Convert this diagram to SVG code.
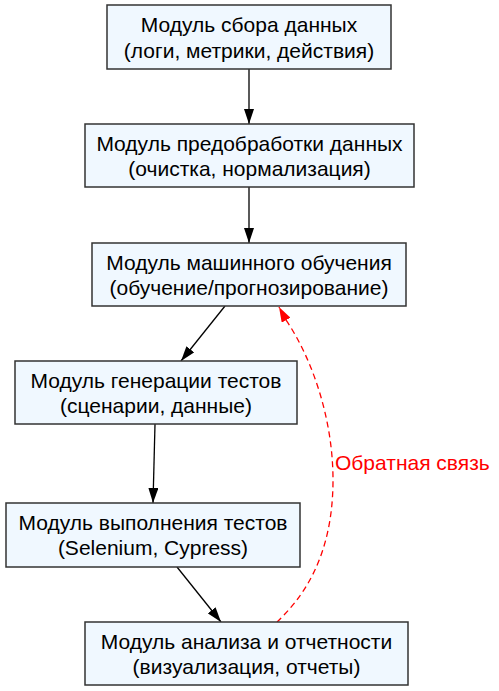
<svg xmlns="http://www.w3.org/2000/svg" width="499" height="691" viewBox="0 0 499 691">
<style>
.node rect{fill:#f0f8ff;stroke:#333;stroke-width:1.5}
.node text{font-family:"Liberation Sans",Arial,sans-serif;font-size:21px;fill:#000;text-anchor:middle}
.edge{fill:none;stroke:#000;stroke-width:1.3}
.fb{fill:none;stroke:#ff0000;stroke-width:1.3;stroke-dasharray:6,4}
.lbl{font-family:"Liberation Sans",Arial,sans-serif;font-size:21px;fill:#ff0000}
</style>
<defs>
<marker id="ah" viewBox="0 0 15 10" refX="15" refY="5" markerWidth="15" markerHeight="10" markerUnits="userSpaceOnUse" orient="auto"><path d="M0,0 L15,5 L0,10 z" fill="#000"/></marker>
<marker id="ahr" viewBox="0 0 15 10" refX="15" refY="5" markerWidth="15" markerHeight="10" markerUnits="userSpaceOnUse" orient="auto"><path d="M0,0 L15,5 L0,10 z" fill="#ff0000"/></marker>
</defs>
<rect width="499" height="691" fill="#fff"/>
<g id="connectors">
<line class="edge" x1="249" y1="69" x2="249" y2="124" marker-end="url(#ah)"/>
<line class="edge" x1="249" y1="187" x2="249" y2="243" marker-end="url(#ah)"/>
<line class="edge" x1="225" y1="306" x2="181" y2="361" marker-end="url(#ah)"/>
<line class="edge" x1="155" y1="424" x2="153" y2="503" marker-end="url(#ah)"/>
<line class="edge" x1="177" y1="567" x2="221" y2="622" marker-end="url(#ah)"/>
<path class="fb" d="M277,622 C300,600 333,560 333,480 C333,420 313,360 286,320 L279,307" marker-end="url(#ahr)"/>
<text class="lbl" x="335" y="470">Обратная связь</text>
</g>
<g id="n1" class="node"><rect x="107" y="5" width="284" height="64"/><text x="249" y="32">Модуль сбора данных</text><text x="249" y="57.5">(логи, метрики, действия)</text></g>
<g id="n2" class="node"><rect x="85" y="124" width="329" height="63"/><text x="249.5" y="150.5">Модуль предобработки данных</text><text x="249.5" y="176">(очистка, нормализация)</text></g>
<g id="n3" class="node"><rect x="92" y="243" width="314" height="63"/><text x="249" y="269.5">Модуль машинного обучения</text><text x="249" y="295">(обучение/прогнозирование)</text></g>
<g id="n4" class="node"><rect x="15" y="361" width="282" height="63"/><text x="156" y="387.5">Модуль генерации тестов</text><text x="156" y="413">(сценарии, данные)</text></g>
<g id="n5" class="node"><rect x="6" y="503" width="294" height="64"/><text x="153" y="529.5">Модуль выполнения тестов</text><text x="153" y="555">(Selenium, Cypress)</text></g>
<g id="n6" class="node"><rect x="85" y="622" width="323" height="63"/><text x="246.5" y="648.5">Модуль анализа и отчетности</text><text x="246.5" y="674">(визуализация, отчеты)</text></g>
</svg>
